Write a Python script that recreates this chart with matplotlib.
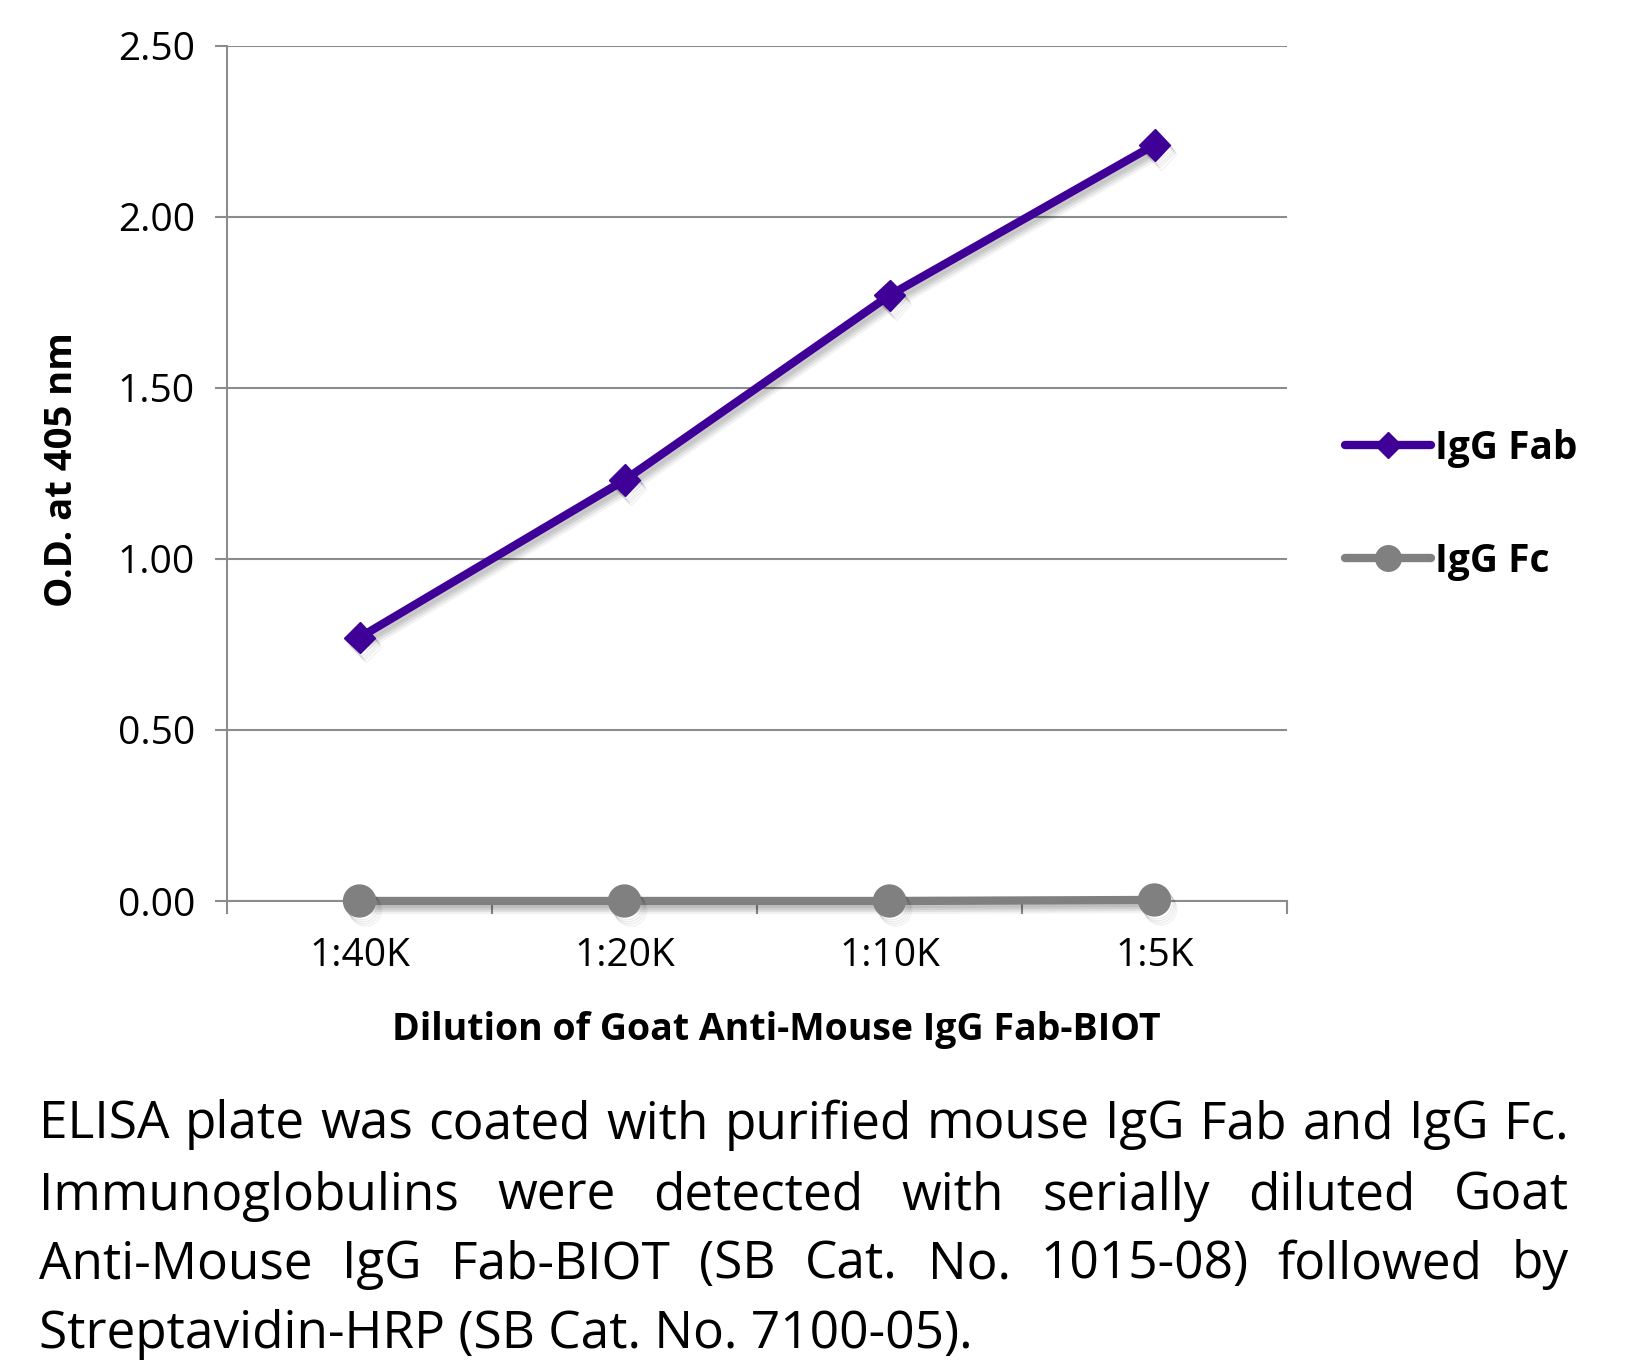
import matplotlib
matplotlib.use("Agg")
import matplotlib.pyplot as plt
import matplotlib.patheffects as pe
import numpy as np

categories = ["1:40K", "1:20K", "1:10K", "1:5K"]
fab_values = [0.77, 1.23, 1.77, 2.21]
fc_values = [0.0, 0.0, 0.0, 0.003]
series_names = ["IgG Fab", "IgG Fc"]
y_ticks = [0.0, 0.5, 1.0, 1.5, 2.0, 2.5]
y_label = "O.D. at 405 nm"
x_label = "Dilution of Goat Anti-Mouse IgG Fab-BIOT"
caption_lines = [
    "ELISA plate was coated with purified mouse IgG Fab and IgG Fc.",
    "Immunoglobulins were detected with serially diluted Goat",
    "Anti-Mouse IgG Fab-BIOT (SB Cat. No. 1015-08) followed by",
    "Streptavidin-HRP (SB Cat. No. 7100-05).",
]

FONT = "Open Sans"
plt.rcParams["font.family"] = [FONT, "DejaVu Sans"]

W, H = 1626, 1369
fig = plt.figure(figsize=(W / 100, H / 100), dpi=100)
ax = fig.add_axes([227 / W, 1 - 901 / H, (1287 - 227) / W, (901 - 45.6) / H])

purple = "#3f0098"
gray = "#808080"
grid_gray = "#8c8c8c"

x = np.arange(len(categories))
shadow = [pe.SimpleLineShadow(offset=(1.5, -2), shadow_color="black", alpha=0.07),
          pe.SimpleLineShadow(offset=(2.5, -3.5), shadow_color="black", alpha=0.08),
          pe.SimpleLineShadow(offset=(3.5, -5), shadow_color="black", alpha=0.07),
          pe.SimpleLineShadow(offset=(4.5, -6.5), shadow_color="black", alpha=0.05),
          pe.Normal()]

ax.plot(x, fab_values, color=purple, lw=6, marker="D", ms=16, mec=purple,
        mfc=purple, clip_on=False, zorder=5, path_effects=shadow, label=series_names[0],
        solid_capstyle="round")
ax.plot(x, fc_values, color=gray, lw=6, marker="o", ms=23, mec=gray,
        mfc=gray, clip_on=False, zorder=4, path_effects=shadow, label=series_names[1],
        solid_capstyle="round")

ax.set_xlim(-0.5, len(categories) - 0.5)
ax.set_ylim(0, 2.5)
ax.set_yticks(y_ticks)
ax.set_yticklabels([f"{v:.2f}" for v in y_ticks])
ax.set_xticks(x)
ax.set_xticklabels(categories)
ax.set_xticks(np.arange(-0.5, len(categories), 1.0), minor=True)
ax.tick_params(axis="x", which="major", length=0, pad=26, labelsize=28)
ax.tick_params(axis="x", which="minor", length=9, width=1.5, color=grid_gray)
ax.tick_params(axis="y", length=9, width=1.5, color=grid_gray, pad=14, labelsize=28)
ax.yaxis.grid(True, color=grid_gray, lw=1.5)
ax.set_axisbelow(True)
for s in ["top", "right"]:
    ax.spines[s].set_visible(False)
for s in ["left", "bottom"]:
    ax.spines[s].set_color(grid_gray)
    ax.spines[s].set_linewidth(1.5)

fig.text(62 / W, 1 - 470 / H, y_label, rotation=90, ha="center", va="center",
         fontsize=27.5, fontweight="bold")
fig.text(776 / W, 1 - 1030 / H, x_label, ha="center", va="center",
         fontsize=27, fontweight="bold")

leg = ax.legend(loc="center left", bbox_to_anchor=(1.022, 0.463), frameon=False,
                prop={"weight": "bold", "size": 28}, handlelength=2.2,
                handletextpad=0.1, labelspacing=1.9, borderaxespad=0.5, markerscale=0.8)
for h in leg.legend_handles:
    h.set_path_effects([])

# Justified caption
fig.canvas.draw()
renderer = fig.canvas.get_renderer()
left_px, right_px = 39, 1569
baselines = [1125, 1196, 1265, 1335]
cap_size = 37
for i, line in enumerate(caption_lines):
    words = line.split(" ")
    yfrac = 1 - baselines[i] / H
    if i == len(caption_lines) - 1:
        fig.text(left_px / W, yfrac, line, fontsize=cap_size, ha="left", va="center")
        continue
    texts = [fig.text(0, yfrac, w, fontsize=cap_size, ha="left", va="center") for w in words]
    widths = [t.get_window_extent(renderer).width for t in texts]
    gap = (right_px - left_px - sum(widths)) / (len(words) - 1)
    xpos = left_px
    for t, w in zip(texts, widths):
        t.set_x(xpos / W)
        xpos += w + gap

fig.savefig("out.png", dpi=100)
